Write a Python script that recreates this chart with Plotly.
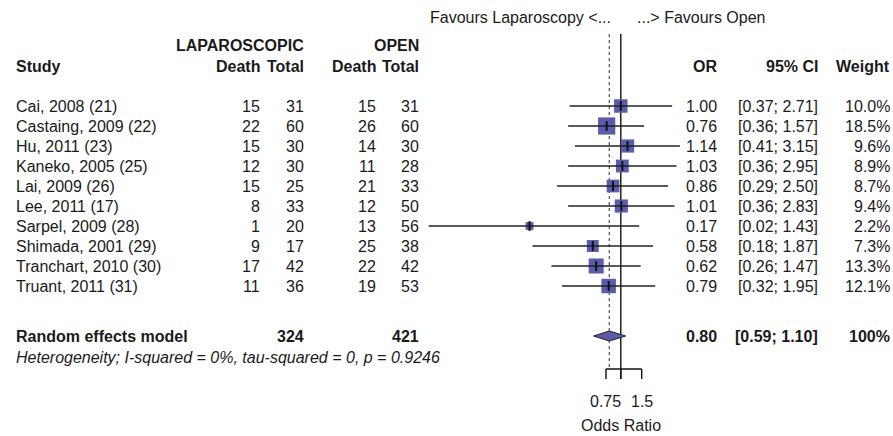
import math
import plotly.graph_objects as go

# ---------------- data ----------------
studies = ["Cai, 2008 (21)", "Castaing, 2009 (22)", "Hu, 2011 (23)", "Kaneko, 2005 (25)",
           "Lai, 2009 (26)", "Lee, 2011 (17)", "Sarpel, 2009 (28)", "Shimada, 2001 (29)",
           "Tranchart, 2010 (30)", "Truant, 2011 (31)"]
lap_death = [15, 22, 15, 12, 15, 8, 1, 9, 17, 11]
lap_total = [31, 60, 30, 30, 25, 33, 20, 17, 42, 36]
open_death = [15, 26, 14, 11, 21, 12, 13, 25, 22, 19]
open_total = [31, 60, 30, 28, 33, 50, 56, 38, 42, 53]
odds_ratio = [1.00, 0.76, 1.14, 1.03, 0.86, 1.01, 0.17, 0.58, 0.62, 0.79]
ci_low = [0.37, 0.36, 0.41, 0.36, 0.29, 0.36, 0.024, 0.18, 0.26, 0.32]
ci_high = [2.71, 1.57, 3.15, 2.95, 2.50, 2.83, 1.43, 1.87, 1.47, 1.95]
weight = [10.0, 18.5, 9.6, 8.9, 8.7, 9.4, 2.2, 7.3, 13.3, 12.1]

pooled_or = 0.80
pooled_low = 0.59
pooled_high = 1.10
pooled_lap_total = 324
pooled_open_total = 421
heterogeneity = "Heterogeneity; I-squared = 0%, tau-squared = 0, p = 0.9246"

axis_ticks = [0.75, 1, 1.5]
axis_tick_labels = ["0.75", "", "1.5"]

# ---------------- layout helpers ----------------
W, H = 893, 436
FONT = "Liberation Sans, Arial, Helvetica, sans-serif"
TXT = "#1a1a1a"
SQ = "#5a5dab"


def row_of(px):
    return (px - 106) / 20.0


def px(x):
    return x / W


rows = list(range(len(studies)))
y_pool = row_of(336)
y_het = row_of(357)
y_hdr = row_of(66)
y_grp = row_of(45)
y_fav = row_of(17)
y_top = row_of(34)
y_axis = row_of(369)
y_tick = row_of(379)
y_ticklab = row_of(401)
y_title = row_of(425)

fig = go.Figure()

# reference lines
fig.add_trace(go.Scatter(x=[1, 1], y=[y_top, y_tick], mode="lines",
                         line=dict(color="#111", width=1.4), hoverinfo="skip"))
fig.add_trace(go.Scatter(x=[pooled_or, pooled_or], y=[y_top, y_axis], mode="lines",
                         line=dict(color="#666", width=1.4, dash="dot"), hoverinfo="skip"))

# squares (side grows with sqrt of weight)
sizes = [3.0 + 3.3 * math.sqrt(w) for w in weight]
fig.add_trace(go.Scatter(x=odds_ratio, y=rows, mode="markers",
                         marker=dict(symbol="square", size=sizes, color=SQ, opacity=1,
                                     line=dict(width=0)), hoverinfo="skip"))

# CI whiskers
for i in rows:
    fig.add_trace(go.Scatter(x=[ci_low[i], ci_high[i]], y=[i, i], mode="lines",
                             line=dict(color="#222", width=1.4), hoverinfo="skip"))
# centre ticks
fig.add_trace(go.Scatter(x=odds_ratio, y=rows, mode="markers",
                         marker=dict(symbol="line-ns", size=7, opacity=1,
                                     line=dict(color="#111", width=2)), hoverinfo="skip"))

# diamond
dh = 0.25
fig.add_trace(go.Scatter(x=[pooled_low, pooled_or, pooled_high, pooled_or, pooled_low],
                         y=[y_pool, y_pool - dh, y_pool, y_pool + dh, y_pool],
                         mode="lines", fill="toself", fillcolor=SQ,
                         line=dict(color="#222", width=1), hoverinfo="skip"))

# axis
fig.add_trace(go.Scatter(x=[axis_ticks[0], axis_ticks[-1]], y=[y_axis, y_axis], mode="lines",
                         line=dict(color="#111", width=1.4), hoverinfo="skip"))
for t in axis_ticks:
    fig.add_trace(go.Scatter(x=[t, t], y=[y_axis, y_tick], mode="lines",
                             line=dict(color="#111", width=1.4), hoverinfo="skip"))

ann = []


def text(x_px, y, s, anchor="right", bold=False, italic=False):
    if bold:
        s = "<b>" + s + "</b>"
    if italic:
        s = "<i>" + s + "</i>"
    ann.append(dict(x=px(x_px), y=y, xref="paper", yref="y",
                    text=s, showarrow=False, xanchor=anchor, yanchor="middle",
                    font=dict(family=FONT, size=16, color=TXT)))


# header
text(613, y_fav, "Favours Laparoscopy <...", "right")
text(635, y_fav, "...> Favours Open", "left")
text(306, y_grp, "LAPAROSCOPIC", bold=True)
text(421, y_grp, "OPEN", bold=True)
text(14, y_hdr, "Study", "left", bold=True)
text(262, y_hdr, "Death", bold=True)
text(306, y_hdr, "Total", bold=True)
text(378, y_hdr, "Death", bold=True)
text(421, y_hdr, "Total", bold=True)
text(719, y_hdr, "OR", bold=True)
text(820, y_hdr, "95% CI", bold=True)
text(892, y_hdr, "Weight", bold=True)

for i in rows:
    text(14, i, studies[i], "left")
    text(262, i, str(lap_death[i]))
    text(306, i, str(lap_total[i]))
    text(378, i, str(open_death[i]))
    text(421, i, str(open_total[i]))
    text(719, i, f"{odds_ratio[i]:.2f}")
    text(820, i, f"[{ci_low[i]:.2f}; {ci_high[i]:.2f}]")
    text(892, i, f"{weight[i]:.1f}%")

text(14, y_pool, "Random effects model", "left", bold=True)
text(306, y_pool, str(pooled_lap_total), bold=True)
text(421, y_pool, str(pooled_open_total), bold=True)
text(719, y_pool, f"{pooled_or:.2f}", bold=True)
text(820, y_pool, f"[{pooled_low:.2f}; {pooled_high:.2f}]", bold=True)
text(892, y_pool, "100%", bold=True)
text(14, y_het, heterogeneity, "left", italic=True)

for t, lab in zip(axis_ticks, axis_tick_labels):
    if lab:
        ann.append(dict(x=math.log10(t), y=y_ticklab, xref="x", yref="y", text=lab,
                        showarrow=False, xanchor="center", yanchor="middle",
                        font=dict(family=FONT, size=16, color=TXT)))
ann.append(dict(x=0, y=y_title, xref="x", yref="y", text="Odds Ratio", showarrow=False,
                xanchor="center", yanchor="middle", font=dict(family=FONT, size=16, color=TXT)))

ppl = 51.5 * math.log(10)  # pixels per decade
x0 = -620.8 / ppl
x1 = (W - 620.8) / ppl

fig.update_layout(
    width=W, height=H, margin=dict(l=0, r=0, t=0, b=0),
    paper_bgcolor="white", plot_bgcolor="white", showlegend=False,
    xaxis=dict(type="log", range=[x0, x1], visible=False, fixedrange=True),
    yaxis=dict(range=[row_of(H), row_of(0)], visible=False, fixedrange=True),
    annotations=ann,
)

fig.write_html("out.html")
